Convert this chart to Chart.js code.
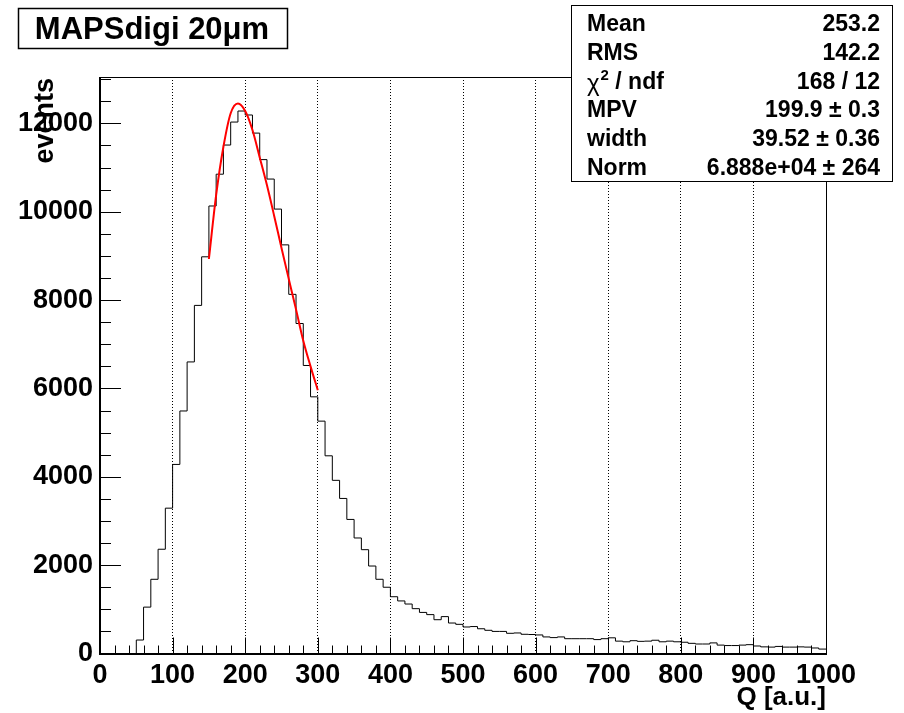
<!DOCTYPE html>
<html>
<head>
<meta charset="utf-8">
<script src="https://cdn.jsdelivr.net/npm/chart.js@4.4.1/dist/chart.umd.min.js"></script>
<style>
  html, body { margin: 0; padding: 0; background: #fff; }
  canvas { display: block; }
</style>
</head>
<body>
<canvas id="myChart" width="904" height="713"></canvas>
<script>
// histogram: Q in bins of 10 from 0 to 1000, counts
const binWidth = 10;
const counts = [
    0, 0, 0, 0, 0, 305, 1050, 1680, 2360, 3290,
    4280, 5490, 6600, 7880, 8980, 10130, 10850, 11510, 12030, 12280,
    12190, 11780, 11180, 10740, 10060, 9250, 8130, 7470, 6520, 5810,
    5260, 4475, 3920, 3510, 3035, 2615, 2350, 1980, 1680, 1500,
    1285, 1190, 1120, 1015, 930, 880, 765, 835, 690, 660,
    600, 610, 560, 525, 500, 500, 457, 465, 435, 430,
    420, 375, 360, 375, 335, 335, 335, 335, 315, 335,
    355, 280, 265, 290, 275, 280, 300, 265, 280, 265,
    255, 230, 215, 215, 240, 190, 180, 180, 190, 200,
    170, 150, 145, 160, 145, 145, 150, 145, 125, 100
];

// red landau fit curve
const fitQ = [150, 160, 170, 180, 190, 200, 210, 220, 230, 240, 250, 260, 270, 280, 290, 300];
const fitY = [8930, 10380, 11470, 12230, 12450, 12280, 11850, 11230, 10600, 9900, 9180, 8480, 7790, 7080, 6500, 5960];

const xTicks = [0, 100, 200, 300, 400, 500, 600, 700, 800, 900, 1000];
const yTicks = [0, 2000, 4000, 6000, 8000, 10000, 12000];
const xMax = 1000;
const yMax = 13050;

const titleText = "MAPSdigi 20\u03bcm";
const xTitle = "Q [a.u.]";
const yTitle = "events";
const statLabels = ["Mean", "RMS", "chi2", "MPV", "width", "Norm"];
const statValues = ["253.2", "142.2", "168 / 12", "199.9 \u00b1 0.3", "39.52 \u00b1 0.36", "6.888e+04 \u00b1 264"];

const FONT = "'Liberation Sans', Arial, Helvetica, sans-serif";

let ctx = document.getElementById("myChart");

let histPoints = counts.map((c, i) => ({ x: i * binWidth, y: c }));
histPoints.push({ x: counts.length * binWidth, y: counts[counts.length - 1] });
let fitPoints = fitQ.map((q, i) => ({ x: q, y: fitY[i] }));

// frame, inward ticks, title box, stat box, axis titles (ROOT look)
const rootDecor = {
    id: "rootDecor",
    afterDraw(chart) {
        const c = chart.ctx;
        const a = chart.chartArea;
        const xs = chart.scales.x;
        const ys = chart.scales.y;
        c.save();
        c.strokeStyle = "#000";
        c.fillStyle = "#000";

        // ticks
        c.lineWidth = 1;
        c.beginPath();
        for (let v = 0; v <= yMax; v += 500) {
            const py = Math.round(ys.getPixelForValue(v)) + 0.5;
            const len = v % 2000 === 0 ? 21 : 11;
            c.moveTo(a.left, py);
            c.lineTo(a.left + len, py);
        }
        for (let v = 0; v <= xMax; v += 20) {
            const px = Math.round(xs.getPixelForValue(v)) + 0.5;
            const len = v % 100 === 0 ? 16 : 8;
            c.moveTo(px, a.bottom);
            c.lineTo(px, a.bottom - len);
        }
        c.stroke();

        // frame
        c.lineWidth = 1;
        c.beginPath();
        c.moveTo(a.left, Math.round(a.top) + 0.5);
        c.lineTo(Math.round(a.right) + 0.5, Math.round(a.top) + 0.5);
        c.lineTo(Math.round(a.right) + 0.5, a.bottom);
        c.stroke();
        c.lineWidth = 2;
        c.beginPath();
        c.moveTo(Math.round(a.left), a.top);
        c.lineTo(Math.round(a.left), Math.round(a.bottom));
        c.lineTo(Math.round(a.right) + 1, Math.round(a.bottom));
        c.stroke();

        // axis titles
        c.font = "bold 26px " + FONT;
        c.textAlign = "right";
        c.textBaseline = "alphabetic";
        c.fillText(xTitle, a.right, 705);
        c.font = "bold 27px " + FONT;
        c.save();
        c.translate(53, a.top + 1);
        c.rotate(-Math.PI / 2);
        c.fillText(yTitle, 0, 0);
        c.restore();

        // title box
        c.fillStyle = "#fff";
        c.fillRect(18, 8, 270, 41);
        c.lineWidth = 1.5;
        c.strokeRect(18.5, 8.5, 269, 40);
        c.fillStyle = "#000";
        c.font = "bold 31px " + FONT;
        c.textAlign = "center";
        c.textBaseline = "middle";
        c.fillText(titleText, 152, 30);

        // stat box
        c.fillStyle = "#fff";
        c.fillRect(571, 5, 322, 177);
        c.lineWidth = 1;
        c.strokeRect(571.5, 5.5, 321, 176);
        c.fillStyle = "#000";
        c.textBaseline = "middle";
        for (let i = 0; i < statLabels.length; i++) {
            const yy = 25 + i * 28.7;
            c.font = "bold 23px " + FONT;
            c.textAlign = "left";
            if (statLabels[i] === "chi2") {
                c.font = "24px " + FONT;
                c.fillText("\u03c7", 587, yy + 2);
                let w = c.measureText("\u03c7").width;
                c.font = "bold 15px " + FONT;
                c.fillText("2", 587 + w + 1, yy - 7);
                let w2 = c.measureText("2").width;
                c.font = "bold 23px " + FONT;
                c.fillText(" / ndf", 587 + w + w2 + 1, yy);
            } else {
                c.fillText(statLabels[i], 587, yy);
            }
            c.textAlign = "right";
            c.fillText(statValues[i], 880, yy);
        }
        c.restore();
    }
};

let myChart = new Chart(ctx, {
    type: "line",
    data: {
        datasets: [
            {
                label: "fit",
                data: fitPoints,
                borderColor: "#ff0000",
                borderWidth: 2,
                pointRadius: 0,
                fill: false,
                cubicInterpolationMode: "monotone",
                order: 0
            },
            {
                label: "MAPSdigi",
                data: histPoints,
                borderColor: "#000000",
                borderWidth: 1,
                pointRadius: 0,
                fill: false,
                stepped: "before",
                order: 1
            }
        ]
    },
    options: {
        responsive: false,
        animation: false,
        devicePixelRatio: 1,
        layout: { padding: { left: 0, right: 78, top: 77, bottom: 0 } },
        plugins: {
            legend: { display: false },
            tooltip: { enabled: false },
            title: { display: false }
        },
        scales: {
            x: {
                type: "linear",
                min: 0,
                max: xMax,
                afterBuildTicks: (s) => { s.ticks = xTicks.map((v) => ({ value: v })); },
                afterFit: (s) => { s.height = 59.5; s.paddingLeft = 0; s.paddingRight = 0; },
                ticks: {
                    color: "#000",
                    font: { family: FONT, size: 27, weight: "bold" },
                    padding: 6,
                    maxRotation: 0,
                    autoSkip: false,
                    callback: (v) => String(v)
                },
                grid: { display: true, color: "#000", lineWidth: 1, drawTicks: false },
                border: { display: false, dash: [1, 2] }
            },
            y: {
                type: "linear",
                min: 0,
                max: yMax,
                afterBuildTicks: (s) => { s.ticks = yTicks.map((v) => ({ value: v })); },
                afterFit: (s) => { s.width = 100; s.paddingTop = 0; s.paddingBottom = 0; },
                ticks: {
                    color: "#000",
                    font: { family: FONT, size: 27, weight: "bold" },
                    padding: 7,
                    autoSkip: false,
                    callback: (v) => String(v)
                },
                grid: { display: false, drawTicks: false },
                border: { display: false }
            }
        }
    },
    plugins: [rootDecor]
});
</script>
</body>
</html>
